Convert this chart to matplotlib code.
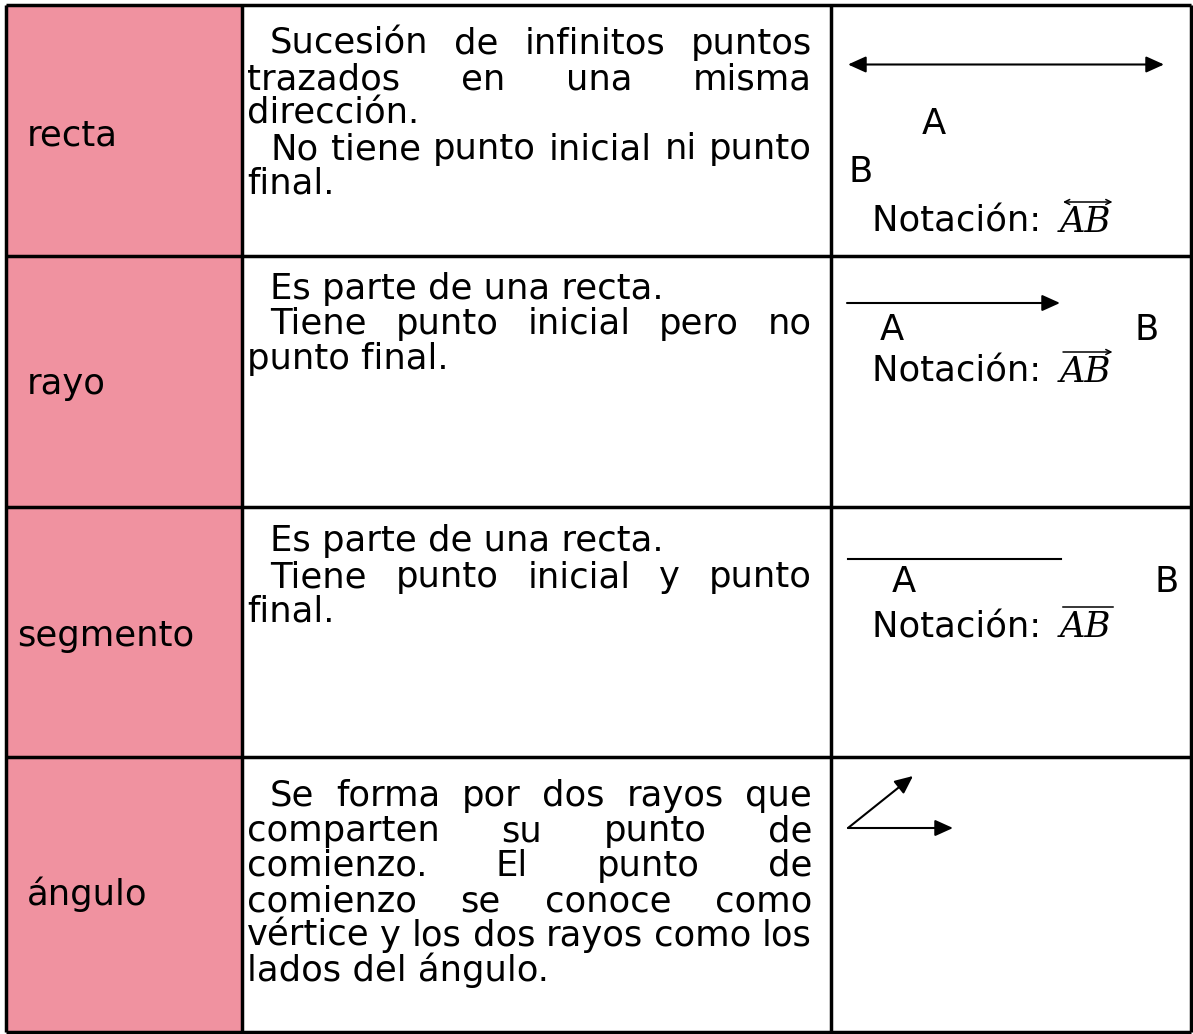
import matplotlib
matplotlib.use("Agg")
import matplotlib.pyplot as plt
from matplotlib.patches import Rectangle

# ---------------- content ----------------
terms = ["recta", "rayo", "segmento", "ángulo"]

desc_recta = ["  Sucesión de infinitos puntos", "trazados en una misma", "dirección.",
              "  No tiene punto inicial ni punto", "final."]
desc_rayo = ["  Es parte de una recta.", "  Tiene punto inicial pero no", "punto final."]
desc_segmento = ["  Es parte de una recta.", "  Tiene punto inicial y punto", "final."]
desc_angulo = ["  Se forma por dos rayos que", "comparten su punto de",
               "comienzo. El punto de", "comienzo se conoce como",
               "vértice y los dos rayos como los", "lados del ángulo."]
descriptions = [desc_recta, desc_rayo, desc_segmento, desc_angulo]

point_names = ["A", "B"]
notation_label = "Notación: "
notation_symbol = "AB"
notation_accents = ["<->", "->", "-"]   # recta, rayo, segmento

# ---------------- layout ----------------
W, H = 1193, 1034
col_x = [6, 242, 831, 1191]
row_y = [5, 256, 507, 757, 1032]
pink = "#F092A0"
FS = 25.5
FONT = "DejaVu Sans"

term_x = [27, 27, 17, 27]
term_base = [146, 394, 646, 905]
desc_base = [[54, 89, 123, 159, 194],
             [299, 334, 369],
             [551, 587, 622],
             [806, 841, 876, 911, 946, 981]]
text_left, text_indent, text_right = 247, 270, 812

fig = plt.figure(figsize=(W / 100, H / 100), dpi=100)
ax = fig.add_axes([0, 0, 1, 1])
ax.set_xlim(0, W)
ax.set_ylim(H, 0)
ax.axis("off")
renderer = fig.canvas.get_renderer()

# pink column
ax.add_patch(Rectangle((col_x[0], row_y[0]), col_x[1] - col_x[0], row_y[-1] - row_y[0],
                       facecolor=pink, edgecolor="none", zorder=0))
# grid
LW = 2.5
ax.hlines(row_y, col_x[0], col_x[-1], colors="black", lw=LW, zorder=3)
ax.vlines(col_x, row_y[0], row_y[-1], colors="black", lw=LW, zorder=3)


def width_of(t):
    return t.get_window_extent(renderer).width


# terms
for term, x, yb in zip(terms, term_x, term_base):
    ax.text(x, yb, term, fontsize=FS, family=FONT, va="baseline", ha="left")

# descriptions (justified)
for lines, bases in zip(descriptions, desc_base):
    for i, (line, yb) in enumerate(zip(lines, bases)):
        indented = line.startswith("  ")
        x0 = text_indent if indented else text_left
        last_of_par = (i == len(lines) - 1) or lines[i + 1].startswith("  ")
        words = line.split()
        if last_of_par or len(words) < 2:
            ax.text(x0, yb, " ".join(words), fontsize=FS, family=FONT,
                    va="baseline", ha="left")
            continue
        texts = [ax.text(0, yb, w, fontsize=FS, family=FONT, va="baseline", ha="left")
                 for w in words]
        widths = [width_of(t) for t in texts]
        gap = (text_right - x0 - sum(widths)) / (len(words) - 1)
        x = x0
        for t, w in zip(texts, widths):
            t.set_x(x)
            x += w + gap

# right column: point labels
A_pos = [(922, 134), (880, 340), (892, 592)]
B_pos = [(848, 182), (1135, 340), (1155, 592)]
note_base = [232, 382, 637]
for (ax_, ay), (bx, by) in zip(A_pos, B_pos):
    ax.text(ax_, ay, point_names[0], fontsize=FS, family=FONT, va="baseline")
    ax.text(bx, by, point_names[1], fontsize=FS, family=FONT, va="baseline")

for yb, acc in zip(note_base, notation_accents):
    t = ax.text(872, yb, notation_label, fontsize=FS, family=FONT, va="baseline")
    ab = ax.text(1060, yb, notation_symbol, fontsize=FS, family="DejaVu Serif",
                 style="italic", va="baseline")
    bb = ab.get_window_extent(renderer)
    x0, x1 = bb.x0 + 3, bb.x1 + 1
    ytop = H - bb.y1 - 3
    if acc == "-":
        ax.plot([x0, x1], [ytop, ytop], color="black", lw=1.1)
    else:
        ax.annotate("", xy=(x1, ytop), xytext=(x0, ytop),
                    arrowprops=dict(arrowstyle=acc, lw=1.1, color="black",
                                    mutation_scale=9, shrinkA=0, shrinkB=0))

# right column: figures
big = dict(lw=1.5, color="black", mutation_scale=26, shrinkA=0, shrinkB=0)
head = ",head_length=0.42,head_width=0.19"
ax.annotate("", xy=(1164, 64.5), xytext=(848, 64.5),
            arrowprops=dict(arrowstyle="<|-|>" + head, **big))
ax.annotate("", xy=(1060, 303), xytext=(847, 303),
            arrowprops=dict(arrowstyle="-|>" + head, **big))
ax.plot([848, 1061], [559, 559], color="black", lw=1.5)
ax.annotate("", xy=(953, 828), xytext=(848, 828),
            arrowprops=dict(arrowstyle="-|>" + head, **big))
ax.annotate("", xy=(913, 776), xytext=(848, 828),
            arrowprops=dict(arrowstyle="-|>" + head, **big))

fig.savefig("out.png", dpi=100)
